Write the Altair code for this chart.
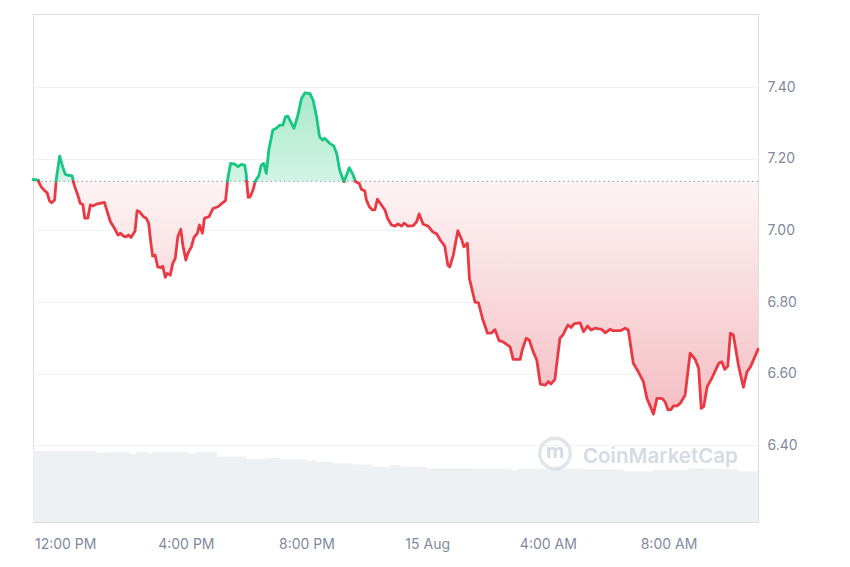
import altair as alt
import pandas as pd

BASE = 7.137  # reference (open) price, dotted line

times_aug14 = [
    "10:56", "11:07", "11:12", "11:19", "11:24", "11:29", "11:33", "11:39", "11:43", "11:49",
    "11:55", "12:00", "12:05", "12:14", "12:19", "12:25", "12:30", "12:35", "12:39", "12:45",
    "12:50", "12:55", "13:02", "13:18", "13:30", "13:38", "13:45", "13:50", "13:56", "14:01",
    "14:06", "14:11", "14:19", "14:23", "14:28", "14:36", "14:41", "14:46", "14:51", "14:54",
    "14:59", "15:04", "15:10", "15:14", "15:19", "15:23", "15:29", "15:34", "15:39", "15:44",
    "15:50", "15:54", "16:00", "16:04", "16:11", "16:16", "16:23", "16:27", "16:33", "16:37",
    "16:46", "16:54", "17:04", "17:13", "17:19", "17:24", "17:29", "17:37", "17:44", "17:50",
    "17:57", "18:00", "18:04", "18:08", "18:14", "18:19", "18:25", "18:30", "18:35", "18:40",
    "18:45", "18:53", "19:00", "19:07", "19:13", "19:18", "19:23", "19:35", "19:43", "19:50",
    "19:57", "20:07", "20:13", "20:20", "20:26", "20:32", "20:36", "20:46", "20:54", "21:00",
    "21:06", "21:15", "21:25", "21:33", "21:38", "21:45", "21:49", "21:56", "21:59", "22:05",
    "22:11", "22:16", "22:21", "22:29", "22:36", "22:41", "22:49", "22:56", "23:02", "23:09",
    "23:14", "23:22", "23:32", "23:39", "23:44", "23:52",
]
prices_aug14 = [
    7.142, 7.140, 7.122, 7.111, 7.105, 7.082, 7.077, 7.085, 7.150, 7.207,
    7.178, 7.157, 7.154, 7.152, 7.122, 7.099, 7.075, 7.073, 7.034, 7.034,
    7.071, 7.068, 7.073, 7.078, 7.024, 7.006, 6.987, 6.992, 6.984, 6.982,
    6.987, 6.980, 6.998, 7.055, 7.052, 7.038, 7.034, 7.020, 6.959, 6.928,
    6.931, 6.898, 6.896, 6.900, 6.869, 6.880, 6.875, 6.908, 6.922, 6.982,
    7.003, 6.959, 6.917, 6.936, 6.954, 6.980, 6.992, 7.015, 6.992, 7.034,
    7.038, 7.061, 7.066, 7.077, 7.083, 7.150, 7.187, 7.185, 7.178, 7.184,
    7.182, 7.159, 7.092, 7.094, 7.114, 7.140, 7.152, 7.182, 7.187, 7.159,
    7.224, 7.280, 7.285, 7.294, 7.294, 7.317, 7.319, 7.285, 7.322, 7.368,
    7.384, 7.382, 7.364, 7.317, 7.261, 7.252, 7.257, 7.243, 7.236, 7.215,
    7.168, 7.136, 7.175, 7.154, 7.136, 7.131, 7.115, 7.110, 7.085, 7.066,
    7.057, 7.057, 7.087, 7.071, 7.057, 7.034, 7.015, 7.012, 7.018, 7.012,
    7.020, 7.012, 7.013, 7.024, 7.046, 7.017,
]
times_aug15 = [
    "00:02", "00:11", "00:19", "00:27", "00:35", "00:41", "00:45", "00:52", "01:01", "01:09",
    "01:13", "01:20", "01:24", "01:35", "01:42", "01:50", "02:00", "02:08", "02:15", "02:23",
    "02:31", "02:45", "02:51", "03:05", "03:09", "03:17", "03:23", "03:31", "03:38", "03:45",
    "03:55", "04:01", "04:06", "04:14", "04:24", "04:30", "04:40", "04:46", "04:53", "05:04",
    "05:11", "05:19", "05:26", "05:34", "05:47", "05:54", "06:04", "06:10", "06:24", "06:34",
    "06:40", "06:50", "07:00", "07:10", "07:17", "07:24", "07:30", "07:37", "07:47", "07:53",
    "07:59", "08:05", "08:10", "08:17", "08:23", "08:33", "08:43", "08:53", "09:00", "09:05",
    "09:10", "09:17", "09:26", "09:40", "09:46", "09:52", "09:58", "10:03", "10:09", "10:19",
    "10:29", "10:36", "10:43", "10:58",
]
prices_aug15 = [
    7.012, 6.996, 6.990, 6.971, 6.956, 6.903, 6.898, 6.931, 6.999, 6.973,
    6.954, 6.964, 6.866, 6.800, 6.798, 6.754, 6.713, 6.714, 6.723, 6.692,
    6.689, 6.675, 6.640, 6.640, 6.666, 6.699, 6.694, 6.661, 6.638, 6.571,
    6.568, 6.578, 6.571, 6.584, 6.699, 6.708, 6.736, 6.729, 6.740, 6.742,
    6.717, 6.733, 6.722, 6.727, 6.724, 6.714, 6.724, 6.720, 6.720, 6.727,
    6.722, 6.629, 6.605, 6.578, 6.531, 6.508, 6.487, 6.531, 6.531, 6.522,
    6.499, 6.500, 6.510, 6.510, 6.517, 6.540, 6.657, 6.640, 6.615, 6.503,
    6.508, 6.564, 6.587, 6.629, 6.633, 6.612, 6.621, 6.713, 6.708, 6.624,
    6.562, 6.605, 6.619, 6.668,
]

vol_times = [
    "2024-08-14T10:56", "2024-08-14T13:02", "2024-08-14T13:28", "2024-08-14T14:08",
    "2024-08-14T14:22", "2024-08-14T14:42", "2024-08-14T14:54", "2024-08-14T16:02",
    "2024-08-14T16:22", "2024-08-14T17:02", "2024-08-14T18:01", "2024-08-14T18:41",
    "2024-08-14T19:07", "2024-08-14T20:01", "2024-08-14T20:21", "2024-08-14T20:53",
    "2024-08-14T21:33", "2024-08-14T22:12", "2024-08-14T22:46", "2024-08-14T23:06",
    "2024-08-15T00:00", "2024-08-15T01:30", "2024-08-15T02:45", "2024-08-15T03:00",
    "2024-08-15T05:00", "2024-08-15T06:30", "2024-08-15T07:30", "2024-08-15T08:40",
    "2024-08-15T09:20", "2024-08-15T10:00", "2024-08-15T10:20", "2024-08-15T10:58",
]
vol_values = [
    14.0, 13.7, 13.8, 13.4, 13.8, 13.5, 13.8, 13.5,
    13.8, 12.9, 12.4, 12.6, 12.3, 12.1, 11.8, 11.5,
    11.3, 10.9, 11.2, 10.9, 10.6, 10.5, 10.2, 10.5,
    10.4, 10.0, 10.3, 10.6, 10.5, 10.4, 10.0, 10.1,
]

# x-axis tick positions (local time): 12 PM, 4 PM, 8 PM, midnight, 4 AM, 8 AM
tick_days = [14, 14, 14, 15, 15, 15]
tick_hours = [12, 16, 20, 0, 4, 8]
y_ticks = [6.4, 6.6, 6.8, 7.0, 7.2, 7.4]

GREEN = "#16c784"
RED = "#ea3943"
LABEL = "#808a9d"
GRID = "#eff2f5"
YDOM = [6.186, 7.604]

# ---- build table: split the price line where it crosses the base price ----
times = ["2024-08-14T" + t for t in times_aug14] + ["2024-08-15T" + t for t in times_aug15]
prices = prices_aug14 + prices_aug15
pts = list(zip(pd.to_datetime(times), prices))

rows = []
seg = 0
side = pts[0][1] >= BASE
rows.append((pts[0][0], pts[0][1], seg, side))
for (t0, p0), (t1, p1) in zip(pts[:-1], pts[1:]):
    s1 = p1 >= BASE
    if s1 != side:
        f = (BASE - p0) / (p1 - p0)
        tc = t0 + (t1 - t0) * f
        rows.append((tc, BASE, seg, side))
        seg += 1
        side = s1
        rows.append((tc, BASE, seg, side))
    rows.append((t1, p1, seg, side))

df = pd.DataFrame(rows, columns=["t", "price", "seg", "up"])
df["t"] = df["t"].dt.strftime("%Y-%m-%dT%H:%M")
df["dir"] = df["up"].map({True: "up", False: "down"})
df["hi"] = df["price"].clip(lower=BASE)
df["lo"] = df["price"].clip(upper=BASE)
df["base"] = BASE
df = df.drop(columns=["up"])

vol_df = pd.DataFrame({"t": vol_times, "vol": vol_values})

xaxis = alt.Axis(
    title=None,
    values=[alt.DateTime(year=2024, month=8, date=d, hours=h) for d, h in zip(tick_days, tick_hours)],
    format="%-I:%M %p",
    labelExpr="datum.label == '12:00 AM' ? '15 Aug' : datum.label",
    labelFontSize=14,
    labelFont="Inter",
    labelColor=LABEL,
    labelPadding=15,
    labelFlush=False,
    labelOverlap=False,
    ticks=False,
    domain=False,
    grid=False,
)
yaxis = alt.Axis(
    orient="right",
    title=None,
    values=y_ticks,
    format=".2f",
    labelFontSize=14,
    labelFont="Inter",
    labelColor=LABEL,
    labelPadding=9,
    ticks=False,
    domain=False,
    grid=True,
    gridColor=GRID,
    gridWidth=1,
)


def yscale():
    return alt.Scale(domain=YDOM, nice=False, zero=False)


xenc = alt.X("t:T", scale=alt.Scale(nice=False), axis=xaxis)

volume = alt.Chart(vol_df).mark_area(interpolate="step-after", color="#eef1f4").encode(
    x=xenc,
    y=alt.Y("vol:Q", scale=alt.Scale(domain=[0, 100], nice=False), axis=None),
)

green_fill = alt.LinearGradient(
    gradient="linear",
    stops=[alt.GradientStop(color="#a9e8cc", offset=0), alt.GradientStop(color="#d2f4e5", offset=1)],
    x1=0, y1=0, x2=0, y2=1,
)
red_fill = alt.LinearGradient(
    gradient="linear",
    stops=[alt.GradientStop(color="#fdf4f5", offset=0), alt.GradientStop(color="#f4bec3", offset=1)],
    x1=0, y1=0, x2=0, y2=1,
)

base_chart = alt.Chart(df)
area_up = base_chart.mark_area(color=green_fill).encode(
    x=xenc,
    y=alt.Y("hi:Q", scale=yscale(), axis=None),
    y2="base:Q",
)
area_down = base_chart.mark_area(color=red_fill).encode(
    x=xenc,
    y=alt.Y("lo:Q", scale=yscale(), axis=None),
    y2="base:Q",
)
base_rule = alt.Chart(pd.DataFrame({"base": [BASE]})).mark_rule(
    color="#a3a8b3", strokeDash=[1.5, 3], strokeWidth=1.3
).encode(y=alt.Y("base:Q", scale=yscale(), axis=None))

line = base_chart.mark_line(strokeWidth=2.8, strokeCap="round", strokeJoin="round").encode(
    x=xenc,
    y=alt.Y("price:Q", scale=yscale(), axis=yaxis),
    detail="seg:N",
    color=alt.Color("dir:N", scale=alt.Scale(domain=["up", "down"], range=[GREEN, RED]), legend=None),
)

wm_df = pd.DataFrame({"label": ["CoinMarketCap"], "logo": ["m"]})
wm_text = alt.Chart(wm_df).mark_text(
    align="left", baseline="alphabetic", fontSize=20.5, fontWeight=600, font="Inter", color="#d5dbe5"
).encode(text="label:N", x=alt.value(550), y=alt.value(449))
wm_ring = alt.Chart(wm_df).mark_point(
    shape="circle", filled=False, size=930, strokeWidth=3.5, color="#d5dbe5"
).encode(x=alt.value(522), y=alt.value(439.5))
wm_m = alt.Chart(wm_df).mark_text(
    align="center", baseline="middle", fontSize=20, fontWeight=700, font="Inter", color="#d5dbe5"
).encode(text="logo:N", x=alt.value(522), y=alt.value(438))

chart = (
    alt.layer(volume, area_up, area_down, base_rule, line, wm_ring, wm_m, wm_text)
    .resolve_scale(y="independent")
    .properties(
        width=725,
        height=508,
        padding={"left": 23, "top": 6, "right": 5, "bottom": 5},
        background="white",
    )
    .configure_view(stroke="#eceff3", strokeWidth=1)
    .configure(font="Inter")
)

chart.save("out.html", embed_options={"renderer": "svg", "actions": False})
